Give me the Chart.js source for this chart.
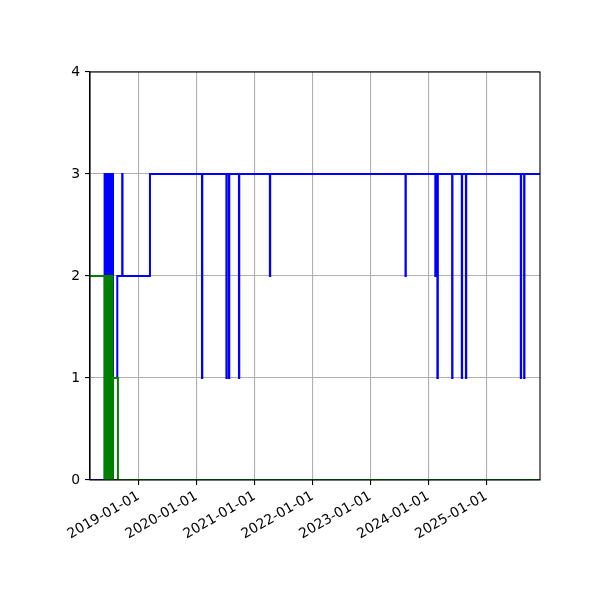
<!DOCTYPE html>
<html>
<head>
<meta charset="utf-8">
<style>
  html, body { margin: 0; padding: 0; background: #ffffff; }
  #wrap { width: 600px; height: 600px; }
</style>
<script src="https://cdn.jsdelivr.net/npm/chart.js@4.4.1/dist/chart.umd.min.js"></script>
</head>
<body>
<div id="wrap"><canvas id="c" width="600" height="600"></canvas></div>
<script>
// ---- data (change points: from this date on, the series has this value) ----
const blueDates = [
  '2018-02-28','2018-05-31','2018-06-03','2018-06-07','2018-06-10','2018-06-14','2018-06-17',
  '2018-06-21','2018-06-24','2018-06-28','2018-07-01','2018-07-05','2018-07-08','2018-07-12',
  '2018-07-15','2018-07-19','2018-07-23','2018-08-19','2018-09-19','2018-09-21','2019-03-13',
  '2020-02-04','2020-02-06','2020-07-07','2020-07-09','2020-07-23','2020-07-25','2020-09-24',
  '2020-09-26','2021-04-07','2021-04-09','2023-08-10','2023-08-12','2024-02-14','2024-02-20',
  '2024-02-27','2024-03-01','2024-05-30','2024-06-01','2024-07-30','2024-08-01','2024-08-25',
  '2024-08-27','2025-08-06','2025-08-08','2025-08-27','2025-08-29','2025-12-05'
];
const blueValues = [
  0,3,0,3,0,3,0,
  3,0,3,0,3,0,3,
  0,3,1,2,3,2,3,
  1,3,1,3,1,3,1,
  3,2,3,2,3,2,3,
  1,3,1,3,1,3,1,
  3,1,3,1,3,3
];
const greenDates = [
  '2018-02-28','2018-06-01','2018-06-04','2018-06-08','2018-06-11','2018-06-15','2018-06-18',
  '2018-06-22','2018-06-25','2018-06-29','2018-07-02','2018-07-06','2018-07-09','2018-07-13',
  '2018-07-16','2018-07-20','2018-07-23','2018-08-23','2025-12-05'
];
const greenValues = [
  2,0,2,0,2,0,2,
  0,2,0,2,0,2,0,
  2,0,1,0,0
];
const xTickLabels = ['2019-01-01','2020-01-01','2021-01-01','2022-01-01','2023-01-01','2024-01-01','2025-01-01'];
const yTickValues = [0,1,2,3,4];
const xMinDate = '2018-02-28';
const xMaxDate = '2025-12-05';

const toPts = (ds, vs) => ds.map((d, i) => ({ x: Date.parse(d), y: vs[i] }));

const frame = {
  id: 'frame',
  afterDraw(chart) {
    const a = chart.chartArea, ctx = chart.ctx;
    ctx.save();
    ctx.strokeStyle = '#000';
    ctx.lineWidth = 1.1;
    ctx.strokeRect(a.left, a.top, a.right - a.left, a.bottom - a.top);
    ctx.restore();
  }
};

const font = { family: 'DejaVu Sans', size: 13.9 };

new Chart(document.getElementById('c'), {
  type: 'line',
  data: {
    datasets: [
      { label: 'green', data: toPts(greenDates, greenValues), borderColor: '#008000',
        borderWidth: 2, pointRadius: 0, stepped: true, tension: 0, fill: false, order: 0 },
      { label: 'blue', data: toPts(blueDates, blueValues), borderColor: '#0000ff',
        borderWidth: 2, pointRadius: 0, stepped: true, tension: 0, fill: false, order: 1 }
    ]
  },
  options: {
    responsive: false,
    animation: false,
    devicePixelRatio: 1,
    layout: { padding: { top: 72, right: 60, left: 0, bottom: 0 } },
    plugins: { legend: { display: false }, tooltip: { enabled: false } },
    scales: {
      x: {
        type: 'linear',
        min: Date.parse(xMinDate),
        max: Date.parse(xMaxDate),
        afterBuildTicks(scale) { scale.ticks = xTickLabels.map(t => ({ value: Date.parse(t) })); },
        afterFit(scale) { scale.height = 120; },
        grid: { color: '#b0b0b0', lineWidth: 1.1, drawTicks: true, tickLength: 5, tickColor: '#000', tickWidth: 1.1 },
        border: { display: true, color: '#000', width: 1.1 },
        ticks: {
          autoSkip: false, minRotation: 30, maxRotation: 30, padding: 3,
          color: '#000', font: font,
          callback(v) { const d = new Date(v); return d.toISOString().slice(0, 10); }
        }
      },
      y: {
        type: 'linear',
        min: 0, max: 4,
        afterBuildTicks(scale) { scale.ticks = yTickValues.map(v => ({ value: v })); },
        afterFit(scale) { scale.width = 90; },
        grid: { color: '#b0b0b0', lineWidth: 1.1, drawTicks: true, tickLength: 5, tickColor: '#000', tickWidth: 1.1 },
        border: { display: true, color: '#000', width: 1.1 },
        ticks: { padding: 5, color: '#000', font: font }
      }
    }
  },
  plugins: [frame]
});
</script>
</body>
</html>
